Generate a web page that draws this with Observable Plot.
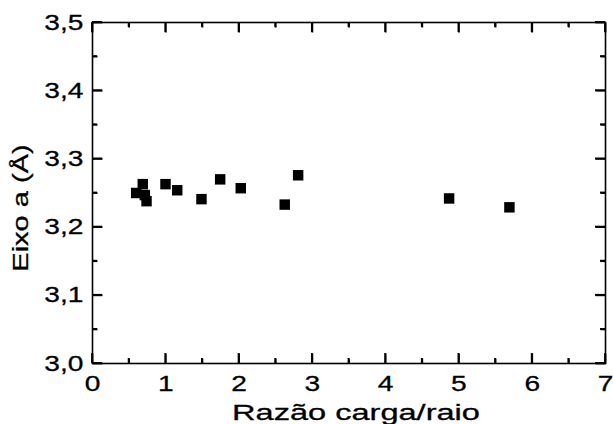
<!DOCTYPE html>
<html><head><meta charset="utf-8">
<script src="https://cdn.jsdelivr.net/npm/d3@7"></script>
<script src="https://cdn.jsdelivr.net/npm/@observablehq/plot@0.6"></script>
<style>body{margin:0;background:#fff} svg text{stroke:#000;stroke-width:0.3px}</style>
</head><body><div id="chart"></div>
<script>
const xLabel = "Razão carga/raio";
const yLabel = "Eixo a (Å)";
const ratio = [0.596, 0.686, 0.714, 0.737, 0.996, 1.156, 1.487, 1.742, 2.023, 2.623, 2.806, 4.866, 5.689];
const axisA = [3.250, 3.263, 3.247, 3.238, 3.263, 3.254, 3.241, 3.270, 3.257, 3.233, 3.276, 3.242, 3.229];
const xTicks = [0, 1, 2, 3, 4, 5, 6, 7];
const xTickLabels = ["0", "1", "2", "3", "4", "5", "6", "7"];
const xMinorTicks = [0.5, 1.5, 2.5, 3.5, 4.5, 5.5, 6.5];
const yTicks = [3.0, 3.1, 3.2, 3.3, 3.4, 3.5];
const yTickLabels = ["3,0", "3,1", "3,2", "3,3", "3,4", "3,5"];
const yMinorTicks = [3.05, 3.15, 3.25, 3.35, 3.45];

const data = ratio.map((x, i) => ({x, y: axisA[i]}));
const font = "'Liberation Sans', Arial, sans-serif";
const W = 613, H = 424, ML = 92, MR = 8, MT = 22, MB = 61;
const MAJ = 10, MIN = 5, TW = 1.8;
const id = d => d;
const glyph = (x, y, w, h) => ({draw(ctx) { ctx.rect(x, y, w, h); }});
const up = len => glyph(-TW / 2, -len, TW, len);
const down = len => glyph(-TW / 2, 0, TW, len);
const right = len => glyph(0, -TW / 2, len, TW);
const left = len => glyph(-len, -TW / 2, len, TW);
const tx = (vals, anchor, sym) => Plot.dot(vals, {x: id, frameAnchor: anchor, symbol: sym, r: 3, fill: "black", stroke: "none"});
const ty = (vals, anchor, sym) => Plot.dot(vals, {y: id, frameAnchor: anchor, symbol: sym, r: 3, fill: "black", stroke: "none"});

const plot = Plot.plot({
  width: W, height: H,
  marginLeft: ML, marginRight: MR, marginTop: MT, marginBottom: MB,
  style: {fontFamily: font, fontSize: "22px", color: "black", background: "white"},
  x: {domain: [0, 7]},
  y: {domain: [3.0, 3.5]},
  marks: [
    Plot.frame({stroke: "black", strokeWidth: 1.6}),
    Plot.axisX({anchor: "bottom", ticks: xTicks, tickSize: 0, tickPadding: 12, tickFormat: d => xTickLabels[xTicks.indexOf(d)], label: null}),
    Plot.axisY({anchor: "left", ticks: yTicks, tickSize: 0, tickPadding: 9, tickFormat: d => yTickLabels[yTicks.indexOf(d)], label: null}),
    tx(xTicks, "bottom", up(MAJ)), tx(xMinorTicks, "bottom", up(MIN)),
    tx(xTicks, "top", down(MAJ)), tx(xMinorTicks, "top", down(MIN)),
    ty(yTicks, "left", right(MAJ)), ty(yMinorTicks, "left", right(MIN)),
    ty(yTicks, "right", left(MAJ)), ty(yMinorTicks, "right", left(MIN)),
    Plot.dot(data, {x: "x", y: "y", symbol: "square", r: 5.9, fill: "black", stroke: "none"}),
    Plot.text([xLabel], {frameAnchor: "bottom", textAnchor: "middle", lineAnchor: "bottom", dy: 56, dx: 7, fontSize: 22, fill: "black"}),
    Plot.text([yLabel], {frameAnchor: "left", textAnchor: "middle", lineAnchor: "bottom", rotate: -90, dx: -65, dy: 15, fontSize: 22, fill: "black"})
  ]
});
document.getElementById("chart").appendChild(plot);

// Reinforce the inward ticks with rectangles placed through Plot's own scales
const sx = plot.scale("x"), sy = plot.scale("y");
const x0 = ML, x1 = W - MR, y0 = MT, y1 = H - MB;
const g = d3.select(plot).append("g").attr("fill", "black");
function addX(vals, len) {
  vals.forEach(v => {
    const px = sx.apply(v);
    g.append("rect").attr("x", px - TW / 2).attr("y", y1 - len).attr("width", TW).attr("height", len);
    g.append("rect").attr("x", px - TW / 2).attr("y", y0).attr("width", TW).attr("height", len);
  });
}
function addY(vals, len) {
  vals.forEach(v => {
    const py = sy.apply(v);
    g.append("rect").attr("x", x0).attr("y", py - TW / 2).attr("width", len).attr("height", TW);
    g.append("rect").attr("x", x1 - len).attr("y", py - TW / 2).attr("width", len).attr("height", TW);
  });
}
addX(xTicks, MAJ); addX(xMinorTicks, MIN);
addY(yTicks, MAJ); addY(yMinorTicks, MIN);

// Horizontal stretch of glyphs to match the reference's wide lettering
function stretch(filter, s) {
  d3.select(plot).selectAll("text").filter(filter).each(function() {
    const t = this.getAttribute("transform") || "";
    this.setAttribute("transform", t + ` scale(${s},1)`);
  });
}
stretch(function() { return xTickLabels.includes(this.textContent) || yTickLabels.includes(this.textContent); }, 1.28);
stretch(function() { return this.textContent === xLabel; }, 1.48);
stretch(function() { return this.textContent === yLabel; }, 1.32);
</script>
</body></html>
